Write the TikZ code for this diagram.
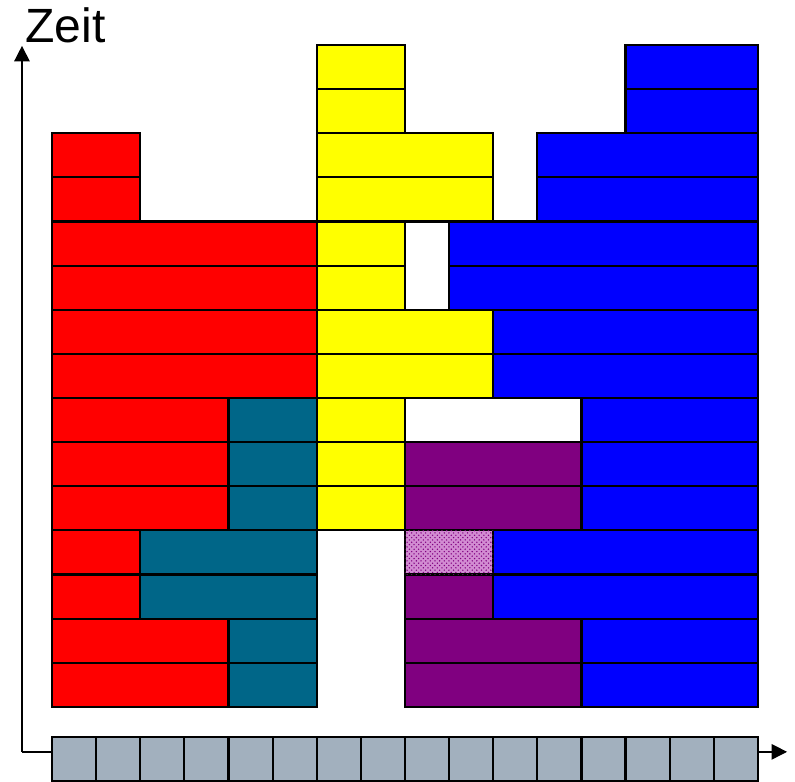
\documentclass[tikz,border=0pt]{standalone}
\usepackage{fontspec}
\setmainfont{Liberation Sans}
\usetikzlibrary{arrows.meta,patterns}

\definecolor{slotred}{RGB}{255,0,0}
\definecolor{slotyellow}{RGB}{255,255,0}
\definecolor{slotblue}{RGB}{0,0,255}
\definecolor{slotteal}{RGB}{0,102,136}
\definecolor{slotpurple}{RGB}{128,0,128}
\definecolor{slotpink}{RGB}{210,140,210}
\definecolor{slotgray}{RGB}{162,176,190}

\begin{document}
\begin{tikzpicture}[>={Triangle[length=10pt,width=10pt]},
  slot/.style={draw=black, line width=1.4pt},
  axis/.style={->, line width=0.9pt},
  speckle/.style={slot, fill=slotpink, postaction={pattern=crosshatch dots, pattern color=slotpurple}}
]
\useasboundingbox (-1.178,-1.70) rectangle (16.84,16.02);

% axes
\coordinate (origin) at (-0.68,-1.02);
\coordinate (ytip) at (-0.68,14.98);
\coordinate (xtip) at (16.66,-1.02);
\draw[axis] (origin) -- (ytip);
\draw[axis] (origin) -- (xtip);
\node[anchor=base west, inner sep=0pt, font=\fontsize{31}{36}\selectfont] (zeit) at (-0.61,15.05) {Zeit};

% time slots
\foreach \i in {0,...,15}
  \draw[slot, fill=slotgray] (\i,-1.69) rectangle ++(1,1);

% rows: y / from / to
\foreach \r/\a/\b in {12/0/2, 11/0/2, 10/0/6, 9/0/6, 8/0/6, 7/0/6,
                      6/0/4, 5/0/4, 4/0/4, 3/0/2, 2/0/2, 1/0/4, 0/0/4}
  \draw[slot, fill=slotred] (\a,\r) rectangle (\b,\r+1);
\foreach \r/\a/\b in {6/4/6, 5/4/6, 4/4/6, 3/2/6, 2/2/6, 1/4/6, 0/4/6}
  \draw[slot, fill=slotteal] (\a,\r) rectangle (\b,\r+1);
\foreach \r/\a/\b in {14/6/8, 13/6/8, 12/6/10, 11/6/10, 10/6/8, 9/6/8,
                      8/6/10, 7/6/10, 6/6/8, 5/6/8, 4/6/8}
  \draw[slot, fill=slotyellow] (\a,\r) rectangle (\b,\r+1);
\foreach \r/\a/\b in {5/8/12, 4/8/12, 2/8/10, 1/8/12, 0/8/12}
  \draw[slot, fill=slotpurple] (\a,\r) rectangle (\b,\r+1);
\foreach \r/\a/\b in {14/13/16, 13/13/16, 12/11/16, 11/11/16, 10/9/16, 9/9/16,
                      8/10/16, 7/10/16, 6/12/16, 5/12/16, 4/12/16, 3/10/16,
                      2/10/16, 1/12/16, 0/12/16}
  \draw[slot, fill=slotblue] (\a,\r) rectangle (\b,\r+1);
\draw[speckle] (8,3) rectangle (10,4);
\end{tikzpicture}
\end{document}
